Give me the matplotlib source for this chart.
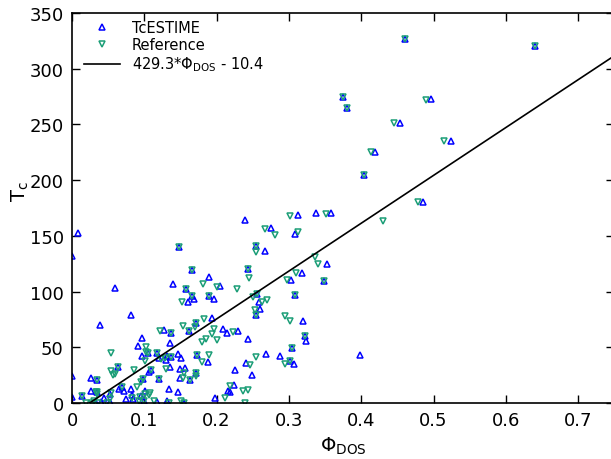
import numpy as np
import matplotlib
matplotlib.use("Agg")
import matplotlib.pyplot as plt

plt.rcParams['mathtext.default'] = 'regular'
plt.rcParams['font.family'] = 'DejaVu Sans'

# fit line  Tc = a*phi + b
fit_a = 429.3
fit_b = -10.4

# points where TcESTIME and Reference coincide
both_x = [0.461, 0.641, 0.375, 0.381, 0.404, 0.349, 0.148, 0.254, 0.166, 0.243,
          0.158, 0.166, 0.190, 0.256, 0.308, 0.254, 0.172, 0.162, 0.137, 0.322,
          0.304, 0.302, 0.173, 0.118, 0.105, 0.063, 0.035, 0.098, 0.109, 0.120,
          0.014, 0.069, 0.099, 0.172, 0.163, 0.155, 0.137, 0.034]
both_y = [327, 320, 275, 265, 205, 109.5, 140, 141, 119, 120,
          102.5, 95.6, 95.6, 97.5, 97.2, 79.3, 71.8, 64.8, 62.5, 59.9,
          49.8, 37.7, 43.4, 44.9, 45, 32.5, 21, 21.5, 29.9, 21.5,
          6, 14, 2, 27.2, 21, 0, 41, 9.6]

# TcESTIME only
est_x = [0.008, 0.0, 0.059, 0.082, 0.039, 0.140, 0.239, 0.190, 0.267, 0.275,
         0.313, 0.337, 0.358, 0.309, 0.205, 0.169, 0.160, 0.197, 0.258, 0.260,
         0.303, 0.318, 0.353, 0.319, 0.323, 0.288, 0.307, 0.398, 0.454, 0.497,
         0.419, 0.524, 0.486, 0.193, 0.209, 0.229, 0.215, 0.243, 0.269, 0.240,
         0.226, 0.249, 0.224, 0.216, 0.219, 0.198, 0.188, 0.151, 0.149, 0.156,
         0.149, 0.146, 0.146, 0.134, 0.135, 0.127, 0.097, 0.091, 0.097, 0.121,
         0.131, 0.130, 0.136, 0.106, 0.0, 0.026, 0.026, 0.0, 0.052, 0.044,
         0.065, 0.072, 0.082, 0.083, 0.085, 0.096, 0.101, 0.075, 0.117, 0.131,
         0.033, 0.040, 0.053]
est_y = [153, 131.7, 103, 79.3, 70.3, 107.2, 164.3, 113.4, 136.3, 157,
         168.6, 170.3, 170.5, 151.8, 104.6, 93.2, 90.5, 93.3, 90.8, 84.4,
         110.6, 117, 124.8, 73.9, 55.4, 42.4, 35, 43, 251, 272.7,
         225.6, 235, 180.4, 76.2, 66.8, 64.2, 62.8, 57.2, 44, 35.6,
         29.2, 25.5, 15.8, 11, 9.6, 4.7, 37, 40.6, 30.5, 31,
         22.2, 44.3, 10.1, 12.3, 53.8, 65.4, 58.1, 51.4, 41.9, 40.4,
         42.2, 38.6, 32, 28.1, 24.5, 22.7, 11, 5, 8, 4.2,
         12.6, 11, 12.6, 7.2, 3.6, 6.6, 11, 3.6, 1.2, 2.1,
         0, 0.6, 0.5]

# Reference only
ref_x = [0.302, 0.267, 0.281, 0.312, 0.254, 0.245, 0.181, 0.200, 0.228, 0.152,
         0.251, 0.263, 0.270, 0.297, 0.310, 0.336, 0.340, 0.295, 0.301, 0.294,
         0.255, 0.246, 0.253, 0.489, 0.446, 0.413, 0.515, 0.479, 0.430, 0.352,
         0.182, 0.170, 0.153, 0.196, 0.222, 0.194, 0.185, 0.180, 0.201, 0.189,
         0.180, 0.155, 0.153, 0.171, 0.218, 0.237, 0.243, 0.211, 0.239, 0.151,
         0.134, 0.113, 0.093, 0.122, 0.102, 0.102, 0.101, 0.128, 0.123, 0.130,
         0.054, 0.054, 0.057, 0.060, 0.086, 0.096, 0.090, 0.083, 0.094, 0.101,
         0.106, 0.108, 0.033, 0.034, 0.054, 0.053, 0.019, 0.028, 0.031, 0.036,
         0.049]
ref_y = [167.8, 156.2, 151, 153.5, 135.6, 112.5, 106.5, 104, 102.2, 90.6,
         95, 90.5, 92.3, 110, 116.4, 130.8, 124.8, 78.5, 73.2, 34.6,
         41.5, 34.4, 83.8, 272.3, 251, 225.6, 235, 180.4, 163, 170,
         75.8, 68.2, 69.4, 66.4, 63.8, 62.1, 57, 54.5, 56.5, 42.8,
         36.5, 26.9, 22.4, 24.5, 15.2, 10.8, 11.7, 4.2, 0, 2,
         0, 2.1, 2.1, 65, 50.3, 46.2, 38, 40.1, 39.5, 30.5,
         44.9, 28.8, 24.7, 26, 29.3, 18.6, 14.1, 4.2, 5.1, 8.3,
         7.2, 9.0, 10.1, 8.1, 8.7, 3.6, 0, 0, 2, 0,
         0]

tc_est_x = est_x + both_x
tc_est_y = est_y + both_y
tc_ref_x = ref_x + both_x
tc_ref_y = ref_y + both_y

fig = plt.figure(figsize=(6.11, 4.60), dpi=100)
ax = fig.add_axes([72/611., 56/460., 0.75*723/611., 390/460.])

ax.plot(tc_est_x, tc_est_y, '^', ms=5, mfc='none', mec='#0000ff', mew=1.1,
        label='TcESTIME')
ax.plot(tc_ref_x, tc_ref_y, 'v', ms=5, mfc='none', mec='#1b9e77', mew=1.1,
        label='Reference')
xx = np.linspace(0, 0.75, 50)
ax.plot(xx, fit_a*xx + fit_b, 'k-', lw=1.2,
        label='%.1f*$\\Phi_{DOS}$ - %.1f' % (fit_a, -fit_b))

ax.set_xlim(0, 0.75)
ax.set_ylim(0, 350)
ax.set_xticks([0, 0.1, 0.2, 0.3, 0.4, 0.5, 0.6, 0.7])
ax.set_xticklabels(['0', '0.1', '0.2', '0.3', '0.4', '0.5', '0.6', '0.7'])
ax.set_xlabel('$\\Phi_{DOS}$', fontsize=14)
ax.set_ylabel('T$_c$', fontsize=14)
ax.yaxis.set_label_coords(-0.076, 0.545)
ax.tick_params(direction='in', top=True, right=True, length=6, width=1,
               labelsize=13, pad=6)
for s in ax.spines.values():
    s.set_linewidth(1.2)

ax.legend(loc='upper left', bbox_to_anchor=(0.008, 1.0), numpoints=1,
          frameon=False, fontsize=10.5, handlelength=2.5, labelspacing=0.15,
          borderaxespad=0.1)

fig.savefig('out.png', dpi=100)
